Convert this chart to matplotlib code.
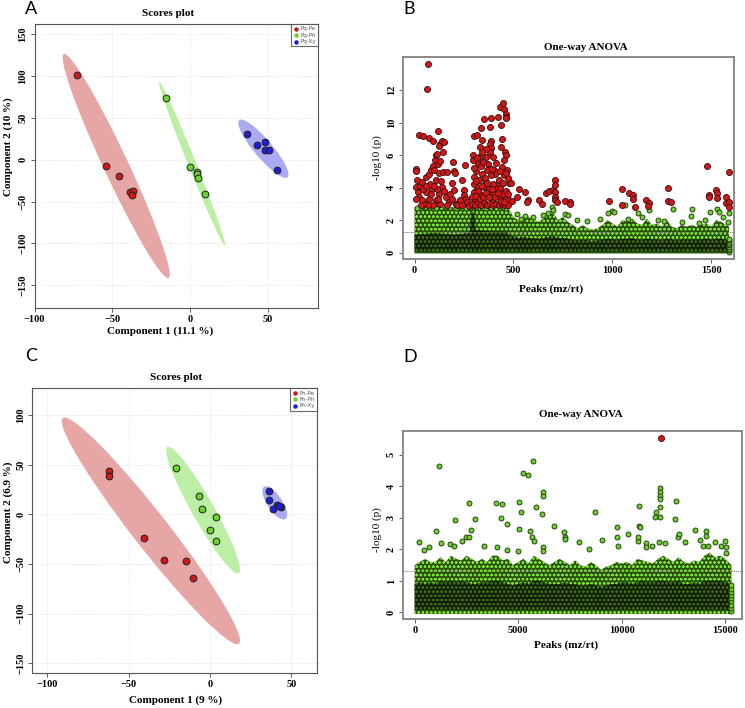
import numpy as np
import matplotlib
matplotlib.use("Agg")
import matplotlib.pyplot as plt
from matplotlib.patches import Ellipse

plt.rcParams['font.family'] = ['Liberation Serif', 'DejaVu Serif']
plt.rcParams['hatch.linewidth'] = 0.6

W, H = 745, 708

# ---------- scores plots (A, C) ----------
groups_a = ["Pq-Pe", "Pq-Ph", "Pq-Xy"]
a_pe_x = [-72.8, -54.2, -45.8, -38.5, -36.8, -37.3]
a_pe_y = [100.8, -7.5, -19.8, -38.5, -37.7, -42.0]
a_ph_x = [-15.4, -0.2, 4.3, 4.5, 4.7, 9.4]
a_ph_y = [73.4, -8.7, -14.7, -17.5, -21.8, -40.9]
a_xy_x = [36.4, 43.0, 48.2, 48.0, 50.3, 55.7]
a_xy_y = [30.2, 17.0, 20.6, 11.9, 11.1, -12.3]

groups_c = ["Pn-Pe", "Pn-Ph", "Pn-Xy"]
c_pe_x = [-61.9, -61.9, -40.4, -28.5, -15.0, -10.5]
c_pe_y = [44.0, 38.3, -23.5, -46.4, -47.4, -64.5]
c_ph_x = [-20.9, -7.0, -5.1, 3.5, 0.2, 3.9]
c_ph_y = [46.7, 18.1, 5.4, -2.4, -15.5, -26.9]
c_xy_x = [36.1, 36.5, 41.0, 43.6, 38.9, 42.5]
c_xy_y = [23.9, 14.8, 9.7, 7.7, 5.0, 8.5]

# ---------- ANOVA B (y in plotted axis units) ----------
b_red_x = [66, 64, 22, 42, 72, 93, 118, 131, 140, 150, 145, 123,
           5, 5, 10, 5, 17, 25, 39, 56, 72, 81, 94, 103, 110, 115, 120, 99, 131, 123, 145, 165, 195, 199, 204, 190,
           199, 241, 253, 249, 251, 258,
           22, 39, 56, 72, 89, 106, 123, 140, 157, 173, 190, 207, 224, 232, 266, 5,
           30, 60, 80, 95, 110, 130, 150, 165, 180, 215, 240, 275, 85, 115, 45, 60, 135, 100, 70, 120,
           300, 316, 342, 349, 338, 333, 328, 321, 293, 295, 359, 385, 382, 385, 382, 380, 372, 401, 375, 421,
           436, 434, 446, 451, 461, 460, 463, 441, 439, 456, 460, 451, 443, 451, 468, 476, 488, 426, 412, 401,
           392, 367, 350, 333, 316, 300, 291, 308, 325, 342, 359, 375, 409, 426, 446, 460, 476, 493, 300, 313,
           335, 364, 392, 384,
           290, 305, 320, 335, 350, 365, 380, 395, 410, 425, 440, 455, 470, 298, 310, 322, 340, 355, 368, 385,
           398, 415, 430, 445, 462, 472, 312, 330, 345, 360, 375, 390, 405, 420, 438, 452, 300, 318, 347, 360,
           343, 395, 410, 430, 470, 462,
           519, 527, 557, 576, 569, 628, 645, 663, 678, 699, 709, 709, 709, 709, 709, 721, 763, 785, 785, 983,
           1047, 1047, 1086, 1103, 1103, 1115, 1169, 1184, 1179, 1280, 1282, 1298, 1480, 1488, 1489, 1524, 1527,
           1527, 1574, 1574, 1590, 1591, 1589]
b_red_y = [11.58, 10.1, 7.27, 7.19, 7.06, 6.9, 7.47, 6.67, 6.9, 6.8, 6.2, 6.57,
           5.13, 5.0, 4.45, 4.05, 3.74, 4.09, 4.35, 4.66, 4.87, 5.07, 5.34, 5.69, 5.98, 6.06, 5.48, 5.07, 5.63, 4.91,
           4.97, 4.97, 5.59, 5.03, 4.91, 4.31,
           3.84, 4.46, 5.38, 3.84, 3.53, 3.33,
           3.43, 3.22, 3.74, 3.33, 3.94, 3.22, 3.63, 4.05, 3.43, 3.12, 3.33, 3.02, 3.12, 3.22, 3.12, 3.33,
           2.95, 3.0, 4.2, 2.95, 4.5, 3.0, 3.8, 2.95, 3.6, 2.92, 2.95, 2.9, 3.6, 3.9, 3.9, 4.1, 4.4, 4.1, 2.95, 3.3,
           7.17, 7.23, 6.92, 8.25, 7.68, 6.51, 5.89, 5.48, 6.0, 5.69, 5.89, 6.88, 6.67, 6.45, 6.2, 7.72, 5.48, 5.07,
           5.17, 8.36,
           7.84, 8.97, 9.18, 8.87, 8.56, 8.36, 8.29, 7.02, 6.51, 6.2, 6.0, 5.69, 5.28, 4.76, 5.07, 4.29, 4.29, 4.46,
           4.15, 3.63,
           3.22, 3.63, 4.05, 3.63, 4.05, 3.74, 3.43, 3.22, 4.46, 4.87, 4.35, 3.94, 4.87, 3.43, 3.63, 3.33, 3.22, 3.16,
           4.66, 5.0,
           5.34, 5.07, 5.17, 8.29,
           3.0, 2.95, 3.1, 2.95, 3.1, 2.95, 3.0, 2.92, 3.0, 2.95, 3.0, 2.92, 2.95, 4.2, 4.4, 3.8, 4.1, 4.6, 4.3, 4.8,
           4.2, 3.9, 4.0, 4.3, 3.8, 3.6, 3.5, 3.3, 3.4, 3.7, 3.45, 3.9, 3.45, 3.7, 3.2, 3.1, 5.2, 5.8, 5.6, 6.4,
           6.2, 5.9, 5.5, 5.0, 4.6, 4.9,
           3.43, 3.94, 3.74, 3.22, 3.12, 3.22, 2.98, 3.68, 3.78, 3.84, 4.46, 4.15, 3.74, 3.43, 3.22, 3.12, 3.16,
           3.12, 2.98, 3.16,
           3.92, 2.92, 3.7, 3.55, 3.28, 2.83, 3.24, 3.04, 2.9, 4.0, 3.16, 3.1, 5.34, 3.55, 3.4, 3.86, 3.65,
           3.34, 3.45, 3.04, 3.14, 2.83, 4.99]

b_green_x = [1064, 1131, 997, 980, 1308, 1401, 1396, 1493, 1530, 1591, 1586, 1184,
             694, 677, 700, 650, 600, 560, 520, 540, 760, 778, 820, 870, 940, 1010, 1080, 1150, 1230, 1260,
             1350, 1440, 1470, 1540, 1560, 10, 60, 110, 160, 210, 260, 310, 360, 410, 460,
             1592, 1592, 1592, 1592, 1592, 1592, 1592, 1592, 1592]
b_green_y = [2.93, 2.46, 2.58, 2.42, 2.67, 2.69, 2.27, 2.52, 2.67, 2.42, 1.91, 2.62,
             2.83, 2.42, 2.6, 2.3, 2.2, 2.25, 2.4, 2.1, 2.35, 2.32, 2.0, 1.95, 2.05, 2.5, 2.1, 2.2, 2.0, 1.95,
             1.9, 1.8, 2.0, 2.5, 2.2, 2.75, 2.78, 2.76, 2.78, 2.74, 2.77, 2.78, 2.75, 2.77, 2.76,
             0.05, 0.15, 0.25, 0.35, 0.45, 0.55, 0.65, 0.75, 0.85]

# envelope of the dense cloud of non-significant peaks
b_band_x = [0, 100, 200, 280, 286, 292, 302, 308, 400, 470, 475, 500, 525, 550, 575, 600, 625, 650, 675,
            700, 725, 750, 775, 800, 825, 850, 875, 900, 925, 950, 975, 1000, 1025, 1050, 1075, 1100, 1125,
            1150, 1175, 1200, 1225, 1250, 1275, 1300, 1325, 1350, 1375, 1400, 1425, 1450, 1475, 1500, 1525,
            1550, 1575, 1590]
b_band_top = [2.8, 2.8, 2.8, 2.8, 2.8, 2.8, 2.8, 2.8, 2.8, 2.8, 2.7, 2.2, 2.0, 2.15, 2.2, 2.05, 1.9, 2.1, 2.3,
              2.5, 2.0, 2.2, 1.9, 1.7, 1.5, 1.7, 1.5, 1.4, 1.5, 1.7, 2.0, 1.8, 1.6, 2.0, 1.9, 2.1, 1.8,
              1.7, 2.1, 1.7, 1.8, 1.6, 2.0, 1.6, 1.5, 1.7, 1.6, 1.7, 1.6, 1.7, 1.8, 1.6, 2.0,
              1.9, 1.7, 1.6]
b_band_dark = [1.1, 1.2, 1.1, 1.2, 2.4, 2.5, 2.4, 1.4, 1.3, 1.3, 1.1, 1.0, 0.9, 0.95, 0.9, 0.9, 0.85, 0.9, 0.95,
               1.0, 0.9, 0.9, 0.85, 0.8, 0.75, 0.8, 0.75, 0.7, 0.75, 0.8, 0.85, 0.8, 0.8, 0.85, 0.85, 0.9, 0.8,
               0.8, 0.85, 0.8, 0.8, 0.75, 0.85, 0.8, 0.75, 0.8, 0.8, 0.8, 0.8, 0.8, 0.85, 0.8, 0.85,
               0.85, 0.8, 0.8]

# ---------- ANOVA D ----------
d_red_x = [11884]
d_red_y = [5.54]
d_green_x = [1159, 5717, 5217, 5459, 2625, 3929, 4219, 5024, 5153, 5878, 6184, 6184, 6151, 8696, 11836,
             11836, 11836, 11836, 11836, 11675, 11626, 11836, 12625, 12592, 10853, 1047, 1932, 2931, 2737,
             4187, 4477, 5024, 5588, 6731, 7230, 7246, 7246, 9774, 10290, 10821, 10869, 13527, 14090, 14074,
             193, 1288, 709, 467, 2287, 2496, 2641, 1723, 1900, 3333, 3977, 4460, 4976, 5668, 5765, 6184,
             6184, 7955, 8438, 9050, 9774, 9823, 11175, 11175, 10773, 10789, 11465, 11787, 12110, 12721,
             12786, 13043, 13800, 13929, 14171, 14525, 14799, 15008, 15040, 15056,
             15260, 15260, 15260, 15260, 15260, 15260, 15260, 15260, 15260]
d_green_y = [4.66, 4.8, 4.43, 4.37, 3.47, 3.46, 3.44, 3.5, 3.2, 3.36, 3.81, 3.71, 3.13, 3.18, 3.94,
             3.83, 3.71, 3.6, 3.36, 3.18, 3.04, 3.04, 3.55, 2.96, 3.39, 2.6, 2.94, 2.97, 2.62,
             2.99, 2.81, 2.65, 2.57, 2.73, 2.54, 2.4, 2.32, 2.7, 2.49, 2.75, 2.7, 2.62, 2.57, 2.44,
             2.22, 2.19, 2.09, 1.98, 2.28, 2.38, 2.4, 2.17, 2.12, 2.1, 2.09, 1.98, 1.96, 2.4, 2.28, 2.09,
             1.96, 2.25, 2.01, 2.3, 2.4, 2.1, 2.19, 2.07, 2.28, 2.4, 2.1, 2.25, 2.19, 2.38,
             2.48, 2.23, 2.3, 2.12, 2.12, 2.23, 2.12, 2.28, 2.09, 1.88,
             0.05, 0.15, 0.25, 0.35, 0.45, 0.55, 0.65, 0.75, 0.88]
d_band_x = [0, 250, 500, 750, 1000, 1250, 1500, 1750, 2000, 2250, 2500, 2750, 3000, 3250, 3500, 3750,
            4000, 4250, 4500, 4750, 5000, 5250, 5500, 5750, 6000, 6250, 6500, 6750, 7000, 7250, 7500, 7750,
            8000, 8250, 8500, 8750, 9000, 9250, 9500, 9750, 10000, 10250, 10500, 10750, 11000, 11250,
            11500, 11750, 12000, 12250, 12500, 12750, 13000, 13250, 13500, 13750, 14000, 14250, 14500,
            14750, 15000, 15300]
d_band_top = [1.5, 1.6, 1.7, 1.6, 1.6, 1.75, 1.6, 1.8, 1.7, 1.65, 1.8, 1.7, 1.6, 1.7, 1.6, 1.8,
              1.8, 1.65, 1.7, 1.5, 1.6, 1.7, 1.55, 1.8, 1.7, 1.6, 1.5, 1.6, 1.7, 1.6, 1.5, 1.65,
              1.5, 1.45, 1.6, 1.5, 1.35, 1.45, 1.5, 1.6, 1.55, 1.6, 1.5, 1.7, 1.65, 1.6,
              1.55, 1.7, 1.8, 1.7, 1.6, 1.75, 1.6, 1.55, 1.65, 1.6, 1.8, 1.9, 1.75,
              1.8, 1.7, 1.5]
d_band_dark = [0.9, 0.95, 0.9, 0.95, 0.9, 1.0, 0.95, 1.0, 0.95, 1.0, 0.95, 0.9, 0.9, 0.95, 0.95, 1.0,
               1.0, 0.95, 0.9, 0.85, 0.9, 0.95, 0.9, 1.0, 1.0, 0.95, 0.9, 0.9, 0.9, 0.95, 0.9, 0.9,
               0.85, 0.85, 0.9, 0.85, 0.8, 0.85, 0.9, 0.9, 0.95, 0.95, 0.9, 0.95, 1.0, 0.95,
               0.95, 1.0, 1.0, 0.95, 0.95, 1.0, 0.9, 0.9, 0.95, 0.9, 1.0, 1.0, 1.0,
               1.0, 0.95, 0.9]

RED, GREEN, BLUE = "#d01818", "#6ad12e", "#1c1ce6"
FILLS = ["#e7a6a6", "#bdeea6", "#aaaaf3"]


def fig_axes(fig, left, top, right, bottom):
    return fig.add_axes([left / W, 1 - bottom / H, (right - left) / W, (bottom - top) / H])


def ftext(fig, x, y, s, **kw):
    fig.text(x / W, 1 - y / H, s, **kw)


def conf_ellipse(ax, xs, ys, color):
    pts = np.column_stack([xs, ys])
    cov = np.cov(pts, rowvar=False)
    vals, vecs = np.linalg.eigh(cov)
    k = np.sqrt(5.991)
    angle = np.degrees(np.arctan2(vecs[1, 1], vecs[0, 1]))
    e = Ellipse(pts.mean(axis=0), 2 * k * np.sqrt(vals[1]), 2 * k * np.sqrt(vals[0]), angle=angle,
                facecolor=color, edgecolor="none", zorder=1)
    ax.add_patch(e)


def style_ticks(ax):
    ax.tick_params(axis="both", direction="out", length=3, width=0.6, color="#444444",
                   labelsize=7.5, pad=2)
    for lab in ax.get_xticklabels() + ax.get_yticklabels():
        lab.set_fontweight("bold")
    for lab in ax.get_yticklabels():
        lab.set_rotation(90)
        lab.set_va("center")


def scores_panel(ax, data, labels, xlim, ylim, yticks):
    for (xs, ys), fc in zip(data, FILLS):
        conf_ellipse(ax, xs, ys, fc)
    for (xs, ys), pc in zip(data, [RED, GREEN, BLUE]):
        ax.scatter(xs, ys, s=24, color=pc, edgecolor="#222222", linewidth=0.7, zorder=3)
    ax.set_xlim(*xlim)
    ax.set_ylim(*ylim)
    ax.set_xticks([-100, -50, 0, 50])
    ax.set_yticks(yticks)
    ax.grid(True, color="#dddddd", linestyle=(0, (1, 1.5)), linewidth=0.6)
    ax.set_axisbelow(True)
    for s in ax.spines.values():
        s.set_color("#555555")
        s.set_linewidth(0.8)
    style_ticks(ax)
    # legend box
    hs = [ax.scatter([], [], s=5, color=c) for c in [RED, GREEN, BLUE]]
    leg = ax.legend(hs, labels, loc="upper right", frameon=True, fancybox=False,
                    borderaxespad=0.0, handletextpad=0.1, borderpad=0.4, labelspacing=0.25,
                    handlelength=1.2, prop={'family': 'DejaVu Sans', 'size': 4})
    leg.get_frame().set_edgecolor("#444444")
    leg.get_frame().set_linewidth(0.8)
    for t in leg.get_texts():
        t.set_color("#555555")


def anova_panel(ax, bx, btop, bdark, gx, gy, rx, ry, xlim, ylim, xticks):
    ax.fill_between(bx, -0.05, btop, facecolor="#28500a", edgecolor="#7be030", hatch="oooo",
                    linewidth=0, zorder=1)
    ax.fill_between(bx, 0.08, bdark, facecolor="#101d04", edgecolor="#3a6814", hatch="oooo",
                    linewidth=0, zorder=2)
    ax.scatter(gx, gy, s=13, color=GREEN, edgecolor="#1a2a05", linewidth=0.6, zorder=3)
    ax.scatter(rx, ry, s=19, color=RED, edgecolor="#3a0a0a", linewidth=0.6, zorder=4)
    ax.axhline(1.3, color="#777777", linestyle=(0, (1, 1)), linewidth=0.7, zorder=5)
    ax.set_xlim(*xlim)
    ax.set_ylim(*ylim)
    ax.set_xticks(xticks)
    for s in ax.spines.values():
        s.set_color("#8a8a8a")
        s.set_linewidth(1.4)
    style_ticks(ax)


fig = plt.figure(figsize=(W / 100, H / 100), dpi=100)

# A
axA = fig_axes(fig, 34.5, 24, 318, 308)
scores_panel(axA, [(a_pe_x, a_pe_y), (a_ph_x, a_ph_y), (a_xy_x, a_xy_y)], groups_a,
             (-100, 82), (-177, 162), [-150, -100, -50, 0, 50, 100, 150])
ftext(fig, 168, 14, "Scores plot", ha="center", va="center", fontsize=8, fontweight="bold")
ftext(fig, 160, 331, "Component 1 (11.1 %)", ha="center", va="center", fontsize=8, fontweight="bold")
ftext(fig, 8, 147, "Component 2 (10 %)", ha="center", va="center", rotation=90, fontsize=8,
      fontweight="bold")

# B
axB = fig_axes(fig, 402.7, 56.7, 734, 259)
anova_panel(axB, b_band_x, b_band_top, b_band_dark, b_green_x, b_green_y, b_red_x, b_red_y,
            (-60, 1615), (-0.39, 12.06), [0, 500, 1000, 1500])
axB.set_yticks([0, 2, 4, 6, 8, 10])
axB.set_yticklabels(["0", "2", "4", "6", "10", "12"], rotation=90, va="center", fontweight="bold")
ftext(fig, 586, 47, "One-way ANOVA", ha="center", va="center", fontsize=8, fontweight="bold")
ftext(fig, 551, 289, "Peaks (mz/rt)", ha="center", va="center", fontsize=8, fontweight="bold")
ftext(fig, 377, 158, "-log10 (p)", ha="center", va="center", rotation=90, fontsize=8)

# C
axC = fig_axes(fig, 32.3, 388.3, 316.7, 673.3)
scores_panel(axC, [(c_pe_x, c_pe_y), (c_ph_x, c_ph_y), (c_xy_x, c_xy_y)], groups_c,
             (-109.3, 65.6), (-160, 127), [-150, -100, -50, 0, 50, 100])
ftext(fig, 176, 378, "Scores plot", ha="center", va="center", fontsize=8, fontweight="bold")
ftext(fig, 176, 700, "Component 1 (9 %)", ha="center", va="center", fontsize=8, fontweight="bold")
ftext(fig, 8, 512, "Component 2 (6.9 %)", ha="center", va="center", rotation=90, fontsize=8,
      fontweight="bold")

# D
axD = fig_axes(fig, 402.7, 431.3, 742, 619)
anova_panel(axD, d_band_x, d_band_top, d_band_dark, d_green_x, d_green_y, d_red_x, d_red_y,
            (-580, 15812), (-0.21, 5.75), [0, 5000, 10000, 15000])
axD.set_yticks([0, 1, 2, 3, 4, 5])
for lab in axD.get_yticklabels():
    lab.set_rotation(90)
    lab.set_va("center")
    lab.set_fontweight("bold")
ftext(fig, 581, 415, "One-way ANOVA", ha="center", va="center", fontsize=8, fontweight="bold")
ftext(fig, 566, 645, "Peaks (mz/rt)", ha="center", va="center", fontsize=8, fontweight="bold")
ftext(fig, 377, 530, "-log10 (p)", ha="center", va="center", rotation=90, fontsize=8)

# panel letters
for x, y, s in [(25, 9, "A"), (403, 9, "B"), (25, 356, "C"), (403, 357, "D")]:
    ftext(fig, x, y, s, ha="left", va="center", fontsize=13, family=["Lato", "DejaVu Sans"])

fig.savefig("out.png", dpi=100)
